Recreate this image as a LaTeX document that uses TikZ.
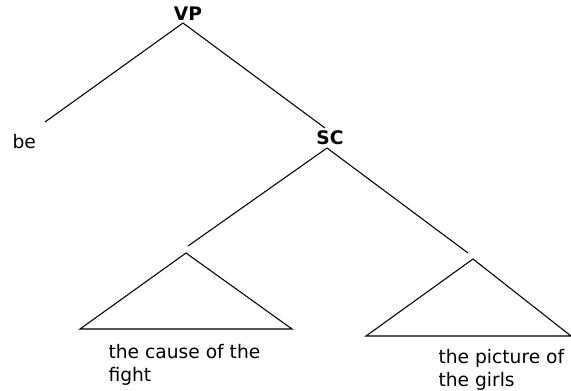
\documentclass[tikz,border=0pt]{standalone}
\usepackage{fontspec}
\setmainfont{DejaVu Sans}
\begin{document}
\begin{tikzpicture}[x=0.75pt,y=-0.75pt,line width=0.8pt,
  font=\fontsize{14}{17.25}\selectfont,
  cat/.style={font=\fontsize{14}{17}\selectfont\bfseries,inner sep=0pt},
  leaf/.style={inner sep=0pt,align=left,anchor=north west}]
  \useasboundingbox (0,0) rectangle (571,390);
  % labels
  \node[cat] (vp) at (188,14) {VP};
  \node[cat] (sc) at (330,138) {SC};
  \node[inner sep=0pt,anchor=west] (be) at (12,142) {be};
  \node[leaf] (cause) at (108,344) {the cause of the\\fight};
  \node[leaf] (picture) at (438,349) {the picture of\\the girls};
  % branch ends
  \coordinate (vpfoot) at (183,23);
  \coordinate (beend) at (45,122);
  \coordinate (scend) at (325,128);
  \coordinate (scfoot) at (327,148);
  \coordinate (lend) at (188,246);
  \coordinate (rend) at (468,253);
  % triangles
  \coordinate (ltop) at (186,253);
  \coordinate (lleft) at (80,329);
  \coordinate (lright) at (292,329);
  \coordinate (rtop) at (473,259);
  \coordinate (rleft) at (366,336);
  \coordinate (rright) at (571,336);
  \draw(vpfoot)--(beend);
  \draw(vpfoot)--(scend);
  \draw(scfoot)--(lend);
  \draw(scfoot)--(rend);
  \draw(ltop)--(lleft)--(lright)--cycle;
  \draw(rtop)--(rleft)--(rright)--cycle;
\end{tikzpicture}
\end{document}
